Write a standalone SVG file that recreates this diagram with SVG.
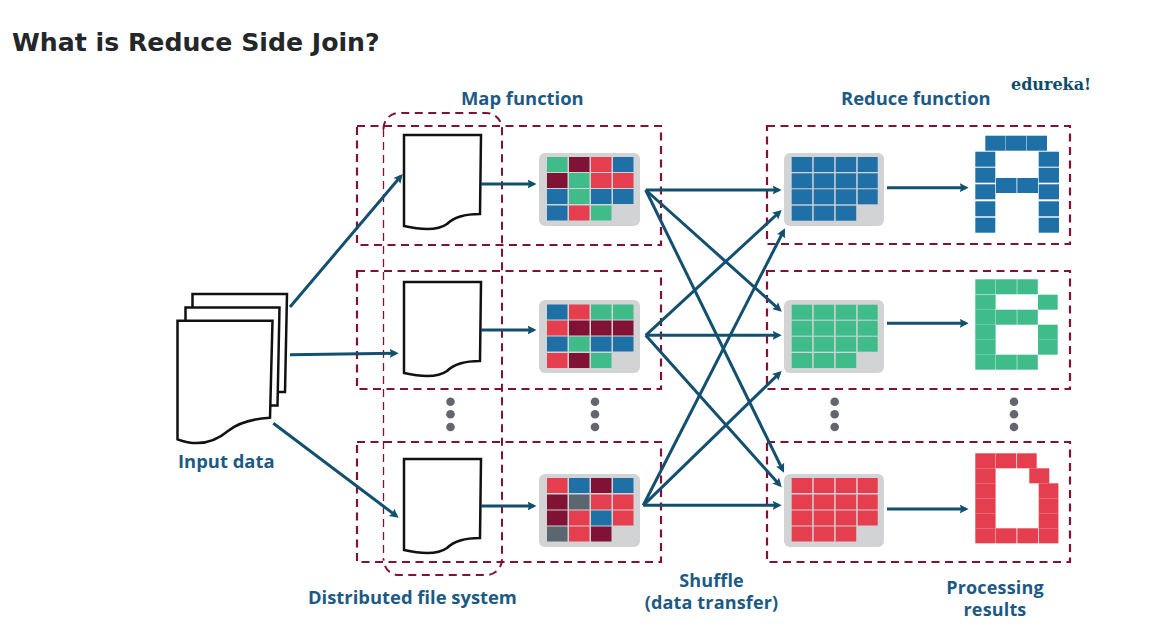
<svg xmlns="http://www.w3.org/2000/svg" width="1167" height="634" viewBox="0 0 1167 634">
<style>
text{font-family:"Open Sans","Liberation Sans",sans-serif;font-weight:700;font-size:18.400px;fill:#1c5a85}
text.two{font-size:18px;letter-spacing:0.150px}
.title{font-family:"DejaVu Sans",sans-serif;font-size:25.200px;fill:#242729}
.brand{font-family:"DejaVu Serif",serif;font-size:16px;fill:#0f4c6b}
.dash{fill:none;stroke:#7f1235;stroke-width:2.200;stroke-dasharray:8 5.500}
.thin{stroke-width:1.300;stroke-dasharray:8 5}
.doc{fill:#fff;stroke:#111;stroke-width:2.500;stroke-linejoin:miter}
.panel{fill:#d1d3d4}
.arrow{stroke:#13506f;stroke-width:3;fill:none;marker-end:url(#tip)}
.dot{fill:#63666f}
.b{fill:#1f70a6}.g{fill:#40bc8a}.m{fill:#7f1235}.r{fill:#e53e4f}.k{fill:#5c6670}
</style>
<defs>
<marker id="tip" markerUnits="userSpaceOnUse" markerWidth="12" markerHeight="12" refX="6" refY="5" orient="auto"><path d="M0,0.500 L9,5 L0,9.500 L1.500,5Z" fill="#13506f"/></marker>
<path id="page" d="M0,0H77L76,79C61,79 50,82 43,89C36,94 22,96 0,91Z"/>
</defs>
<rect width="1167" height="634" fill="#fff"/>
<text class="title" x="12" y="51">What is Reduce Side Join?</text>
<text class="brand" x="1011" y="90">edureka!</text>
<text x="461" y="105">Map function</text>
<text x="841" y="105">Reduce function</text>
<text x="178" y="468">Input data</text>
<text x="308" y="604">Distributed file system</text>
<text class="two" x="711.500" y="587" text-anchor="middle">Shuffle</text>
<text class="two" x="711.500" y="609" text-anchor="middle">(data transfer)</text>
<text class="two" x="995" y="593.500" text-anchor="middle">Processing</text>
<text class="two" x="995" y="615.700" text-anchor="middle">results</text>

<g id="frames">
<rect class="dash" x="357" y="126" width="304" height="119"/>
<rect class="dash" x="357" y="271" width="304" height="118"/>
<rect class="dash" x="357" y="442" width="304" height="120"/>
<rect class="dash" x="767" y="126" width="303" height="118"/>
<rect class="dash" x="767" y="271" width="303" height="118"/>
<rect class="dash" x="767" y="442" width="303" height="120"/>
<path class="dash thin" d="M383.500,129V559"/>
<path class="dash" style="stroke-width:2" d="M383.500,129C383.500,120 390,113 399,113H486C495,113 502,120 502,129V559C502,568 495,575 486,575H399C390,575 383.500,568 383.500,559"/>
</g>

<g id="input-data">
<path class="doc" d="M192.500,294H287L285,392H192.500Z"/>
<path class="doc" d="M185.500,307.500H279.500L277.500,405.500H185.500Z"/>
<path class="doc" d="M177.500,320.700H272.500L270,417.700C250,419 238,423 228,431C215,442 198,447 177.500,439.300Z"/>
</g>
<g id="split-1"><use href="#page" class="doc" x="404" y="135"/></g>
<g id="split-2"><use href="#page" class="doc" x="404" y="282"/></g>
<g id="split-3"><use href="#page" class="doc" x="404" y="459"/></g>

<g id="map-1"><rect class="panel" x="539" y="153" width="101" height="73" rx="6"/>
<rect class="g" x="547" y="157" width="20.500" height="15"/><rect class="m" x="569" y="157" width="20.500" height="15"/><rect class="r" x="591" y="157" width="20.500" height="15"/><rect class="b" x="613" y="157" width="20.500" height="15"/>
<rect class="m" x="547" y="173" width="20.500" height="15"/><rect class="g" x="569" y="173" width="20.500" height="15"/><rect class="r" x="591" y="173" width="20.500" height="15"/><rect class="r" x="613" y="173" width="20.500" height="15"/>
<rect class="b" x="547" y="189" width="20.500" height="15"/><rect class="g" x="569" y="189" width="20.500" height="15"/><rect class="b" x="591" y="189" width="20.500" height="15"/><rect class="b" x="613" y="189" width="20.500" height="15"/>
<rect class="b" x="547" y="205.500" width="20.500" height="15"/><rect class="r" x="569" y="205.500" width="20.500" height="15"/><rect class="g" x="591" y="205.500" width="20.500" height="15"/></g>

<g id="map-2"><rect class="panel" x="539" y="300" width="101" height="73" rx="6"/>
<rect class="b" x="547" y="304.500" width="20.500" height="15"/><rect class="r" x="569" y="304.500" width="20.500" height="15"/><rect class="g" x="591" y="304.500" width="20.500" height="15"/><rect class="g" x="613" y="304.500" width="20.500" height="15"/>
<rect class="r" x="547" y="320.500" width="20.500" height="15"/><rect class="m" x="569" y="320.500" width="20.500" height="15"/><rect class="m" x="591" y="320.500" width="20.500" height="15"/><rect class="m" x="613" y="320.500" width="20.500" height="15"/>
<rect class="b" x="547" y="336.500" width="20.500" height="15"/><rect class="g" x="569" y="336.500" width="20.500" height="15"/><rect class="b" x="591" y="336.500" width="20.500" height="15"/><rect class="b" x="613" y="336.500" width="20.500" height="15"/>
<rect class="r" x="547" y="353" width="20.500" height="15"/><rect class="m" x="569" y="353" width="20.500" height="15"/><rect class="g" x="591" y="353" width="20.500" height="15"/></g>

<g id="map-3"><rect class="panel" x="539" y="474" width="101" height="73" rx="6"/>
<rect class="r" x="547" y="478" width="20.500" height="15"/><rect class="b" x="569" y="478" width="20.500" height="15"/><rect class="m" x="591" y="478" width="20.500" height="15"/><rect class="b" x="613" y="478" width="20.500" height="15"/>
<rect class="m" x="547" y="494.500" width="20.500" height="15"/><rect class="k" x="569" y="494.500" width="20.500" height="15"/><rect class="r" x="591" y="494.500" width="20.500" height="15"/><rect class="r" x="613" y="494.500" width="20.500" height="15"/>
<rect class="m" x="547" y="510.500" width="20.500" height="15"/><rect class="r" x="569" y="510.500" width="20.500" height="15"/><rect class="b" x="591" y="510.500" width="20.500" height="15"/><rect class="r" x="613" y="510.500" width="20.500" height="15"/>
<rect class="k" x="547" y="526.500" width="20.500" height="15"/><rect class="r" x="569" y="526.500" width="20.500" height="15"/><rect class="m" x="591" y="526.500" width="20.500" height="15"/></g>

<g id="reduce-1" class="b"><rect class="panel" x="784" y="153" width="100" height="73" rx="6"/>
<rect x="791.700" y="157" width="20.500" height="15"/><rect x="813.700" y="157" width="20.500" height="15"/><rect x="835.700" y="157" width="20.500" height="15"/><rect x="857.700" y="157" width="20" height="15"/>
<rect x="791.700" y="173.300" width="20.500" height="15"/><rect x="813.700" y="173.300" width="20.500" height="15"/><rect x="835.700" y="173.300" width="20.500" height="15"/><rect x="857.700" y="173.300" width="20" height="15"/>
<rect x="791.700" y="189.300" width="20.500" height="15"/><rect x="813.700" y="189.300" width="20.500" height="15"/><rect x="835.700" y="189.300" width="20.500" height="15"/><rect x="857.700" y="189.300" width="20" height="15"/>
<rect x="791.700" y="205.700" width="20.500" height="15"/><rect x="813.700" y="205.700" width="20.500" height="15"/><rect x="835.700" y="205.700" width="20.500" height="15"/></g>

<g id="reduce-2" class="g"><rect class="panel" x="784" y="300" width="100" height="73" rx="6"/>
<rect x="791.700" y="304.700" width="20.500" height="15"/><rect x="813.700" y="304.700" width="20.500" height="15"/><rect x="835.700" y="304.700" width="20.500" height="15"/><rect x="857.700" y="304.700" width="20" height="15"/>
<rect x="791.700" y="320.700" width="20.500" height="15"/><rect x="813.700" y="320.700" width="20.500" height="15"/><rect x="835.700" y="320.700" width="20.500" height="15"/><rect x="857.700" y="320.700" width="20" height="15"/>
<rect x="791.700" y="336.700" width="20.500" height="15"/><rect x="813.700" y="336.700" width="20.500" height="15"/><rect x="835.700" y="336.700" width="20.500" height="15"/><rect x="857.700" y="336.700" width="20" height="15"/>
<rect x="791.700" y="353" width="20.500" height="15"/><rect x="813.700" y="353" width="20.500" height="15"/><rect x="835.700" y="353" width="20.500" height="15"/></g>

<g id="reduce-3" class="r"><rect class="panel" x="784" y="474" width="100" height="73" rx="6"/>
<rect x="791.700" y="478" width="20.500" height="15"/><rect x="813.700" y="478" width="20.500" height="15"/><rect x="835.700" y="478" width="20.500" height="15"/><rect x="857.700" y="478" width="20" height="15"/>
<rect x="791.700" y="494.500" width="20.500" height="15"/><rect x="813.700" y="494.500" width="20.500" height="15"/><rect x="835.700" y="494.500" width="20.500" height="15"/><rect x="857.700" y="494.500" width="20" height="15"/>
<rect x="791.700" y="510.500" width="20.500" height="15"/><rect x="813.700" y="510.500" width="20.500" height="15"/><rect x="835.700" y="510.500" width="20.500" height="15"/><rect x="857.700" y="510.500" width="20" height="15"/>
<rect x="791.700" y="526.500" width="20.500" height="15"/><rect x="813.700" y="526.500" width="20.500" height="15"/><rect x="835.700" y="526.500" width="20.500" height="15"/></g>

<g id="result-a" class="b">
<rect x="985.300" y="135.700" width="20.300" height="15"/><rect x="1006" y="135.700" width="20.300" height="15"/><rect x="1026.700" y="135.700" width="20.300" height="15"/>
<rect x="975.300" y="151.700" width="20" height="15"/><rect x="975.300" y="167.700" width="20" height="15"/><rect x="975.300" y="184.300" width="20" height="15"/><rect x="975.300" y="201.300" width="20" height="15"/><rect x="975.300" y="217.700" width="20" height="15"/>
<rect x="1038.700" y="151.700" width="20.300" height="15"/><rect x="1038.700" y="167.700" width="20.300" height="15"/><rect x="1038.700" y="184.300" width="20.300" height="15"/><rect x="1038.700" y="201.300" width="20.300" height="15"/><rect x="1038.700" y="217.700" width="20.300" height="15"/>
<rect x="996" y="178" width="20.500" height="15"/><rect x="1017.300" y="178" width="20.700" height="15"/>
</g>
<g id="result-b" class="g">
<rect x="975.300" y="279.300" width="20.300" height="15"/><rect x="996" y="279.300" width="20.800" height="15"/><rect x="1017.300" y="279.300" width="20.500" height="15"/>
<rect x="975.300" y="294.700" width="20.300" height="15"/><rect x="1038" y="294.700" width="19.700" height="15"/>
<rect x="975.300" y="309.700" width="20.300" height="15"/><rect x="996" y="309.700" width="20.800" height="15"/><rect x="1017.300" y="309.700" width="20.500" height="15"/>
<rect x="975.300" y="324.700" width="20.300" height="15"/><rect x="1038" y="324.700" width="19.700" height="15"/>
<rect x="975.300" y="339.700" width="20.300" height="15"/><rect x="1038" y="339.700" width="19.700" height="15"/>
<rect x="975.300" y="354.700" width="20.300" height="15"/><rect x="996" y="354.700" width="20.800" height="15"/><rect x="1017.300" y="354.700" width="20.500" height="15"/>
</g>
<g id="result-d" class="r">
<rect x="975.300" y="453.300" width="20.300" height="15"/><rect x="996" y="453.300" width="20" height="15"/><rect x="1016.700" y="453.300" width="20" height="15"/>
<rect x="975.300" y="468.300" width="20.300" height="15"/><rect x="1029.300" y="468.300" width="20" height="15"/>
<rect x="975.300" y="483.300" width="20.300" height="15"/><rect x="1038.700" y="483.300" width="19.700" height="15"/>
<rect x="975.300" y="498.300" width="20.300" height="15"/><rect x="1038.700" y="498.300" width="19.700" height="15"/>
<rect x="975.300" y="513.300" width="20.300" height="15"/><rect x="1038.700" y="513.300" width="19.700" height="15"/>
<rect x="975.300" y="528.300" width="20.300" height="15"/><rect x="996" y="528.300" width="20.500" height="15"/><rect x="1017.300" y="528.300" width="20.700" height="15"/><rect x="1038.700" y="528.300" width="19.700" height="15"/>
</g>

<g id="ellipsis">
<circle class="dot" cx="450.500" cy="401.700" r="4.300"/><circle class="dot" cx="450.500" cy="414.300" r="4.300"/><circle class="dot" cx="450.500" cy="427" r="4.300"/>
<circle class="dot" cx="595" cy="401.700" r="4.300"/><circle class="dot" cx="595" cy="414.300" r="4.300"/><circle class="dot" cx="595" cy="427" r="4.300"/>
<circle class="dot" cx="834.700" cy="401.700" r="4.300"/><circle class="dot" cx="834.700" cy="414.300" r="4.300"/><circle class="dot" cx="834.700" cy="427" r="4.300"/>
<circle class="dot" cx="1014" cy="401.700" r="4.300"/><circle class="dot" cx="1014" cy="414.300" r="4.300"/><circle class="dot" cx="1014" cy="427" r="4.300"/>
</g>

<g id="connectors">
<path class="arrow" d="M290,307L400.800,176.300"/>
<path class="arrow" d="M290,354.700L395.700,353.300"/>
<path class="arrow" d="M273.300,423.300L396.300,515.900"/>
<path class="arrow" d="M481,184H533.500"/>
<path class="arrow" d="M481,330H533.500"/>
<path class="arrow" d="M481,506H533.500"/>
<path class="arrow" d="M645.700,190H778.700"/>
<path class="arrow" d="M645.700,190L779.500,309.700"/>
<path class="arrow" d="M645.700,190L782.700,470"/>
<path class="arrow" d="M645.700,335.300L779.500,212"/>
<path class="arrow" d="M645.700,335.300H778.700"/>
<path class="arrow" d="M645.700,335.300L779.700,485"/>
<path class="arrow" d="M643.300,505.300L783.600,231"/>
<path class="arrow" d="M643.300,505.300L779.500,373.100"/>
<path class="arrow" d="M643.300,505.300H778.700"/>
<path class="arrow" d="M887,187.700H965.700"/>
<path class="arrow" d="M887,323.300H965.700"/>
<path class="arrow" d="M887,509H965.700"/>
</g>
</svg>
